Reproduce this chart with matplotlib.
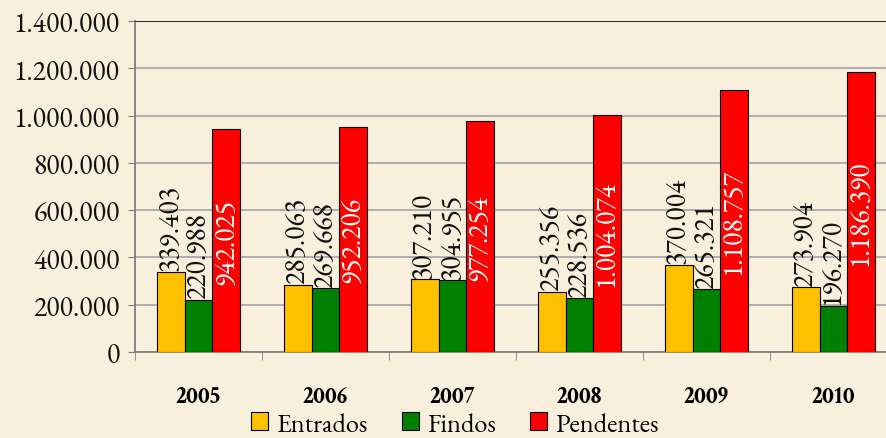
import numpy as np
import matplotlib
matplotlib.use('Agg')
import matplotlib.pyplot as plt
from matplotlib.ticker import FuncFormatter

anos = ['2005', '2006', '2007', '2008', '2009', '2010']
entrados = [339403, 285063, 307210, 255356, 370004, 273904]
findos = [220988, 269668, 304955, 228536, 265321, 196270]
pendentes = [942025, 952206, 977254, 1004074, 1108757, 1186390]

fundo = '#F8F0DC'
plt.rcParams['font.family'] = ['EB Garamond', 'Liberation Serif', 'DejaVu Serif']

def pontos(v):
    return f'{int(v):,}'.replace(',', '.')

fig = plt.figure(figsize=(8.86, 4.39), dpi=100, facecolor=fundo)
ax = fig.add_axes([135/886, 1-353/439, 762/886, 331/439])
ax.set_facecolor(fundo)

x = np.arange(len(anos))
w = 0.22
b1 = ax.bar(x - w, entrados, w, color='#FFC000', edgecolor='black', linewidth=0.8, label='Entrados', zorder=3)
b2 = ax.bar(x, findos, w, color='#008000', edgecolor='black', linewidth=0.8, label='Findos', zorder=3)
b3 = ax.bar(x + w, pendentes, w, color='#FF0000', edgecolor='black', linewidth=0.8, label='Pendentes', zorder=3)

# rotulos dos valores
for bars, vals in ((b1, entrados), (b2, findos)):
    for r, v in zip(bars, vals):
        ax.annotate(pontos(v), (r.get_x() + r.get_width()/2, v), xytext=(0, 1),
                    textcoords='offset points', rotation=90, ha='center', va='bottom',
                    fontsize=20, color='#111111', zorder=4)
for r, v in zip(b3, pendentes):
    ax.text(r.get_x() + r.get_width()/2, v/2, pontos(v), rotation=90, ha='center',
            va='center', fontsize=20, color='white', zorder=4)

ax.set_xlim(-0.5, len(anos) - 0.5)
ax.set_ylim(0, 1400000)
ax.set_yticks(np.arange(0, 1400001, 200000))
ax.yaxis.set_major_formatter(FuncFormatter(lambda v, p: pontos(v)))
ax.yaxis.grid(True, color='#A8A8A8', linewidth=1.3, zorder=0)
ax.tick_params(axis='y', labelsize=20, length=5, color='#808080', labelcolor='#111111', pad=6)

ax.set_xticks(x)
ax.set_xticklabels(anos, fontsize=17, fontweight='bold', family='Crimson Text')
ax.set_xticks(np.arange(-0.5, len(anos), 1), minor=True)
ax.tick_params(axis='x', which='major', length=0, pad=24)
ax.tick_params(axis='x', which='minor', length=6, color='#808080')

for s in ('left', 'bottom'):
    ax.spines[s].set_color('#808080')
    ax.spines[s].set_linewidth(1.3)
ax.spines['right'].set_visible(False)
ax.spines['top'].set_color('#333333')

fig.legend(loc='center', bbox_to_anchor=(455/886, 1-426/439), ncol=3, frameon=False,
           fontsize=19, handlelength=0.65, handleheight=0.65, handletextpad=0.3,
           columnspacing=1.3)

fig.savefig('out.png', dpi=100, facecolor=fundo)
